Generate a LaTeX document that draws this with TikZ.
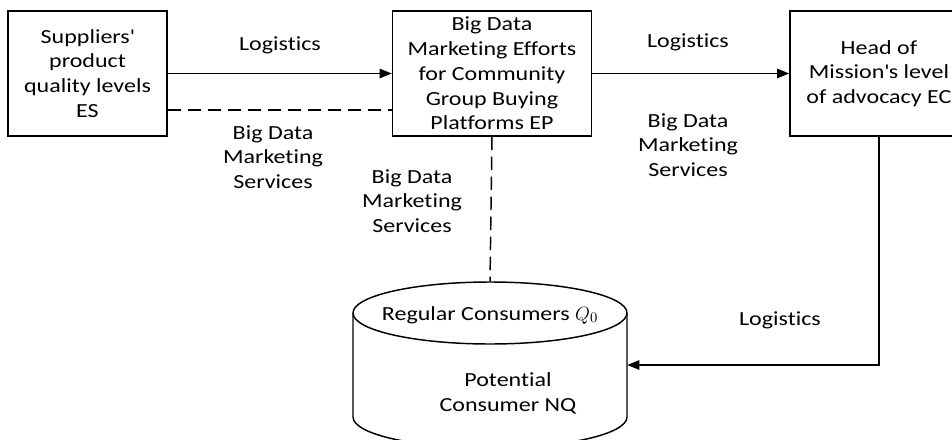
\documentclass[tikz,border=0pt]{standalone}
\usepackage{fontspec}
\setmainfont{Carlito}[FakeStretch=1.2, Ligatures=NoCommon]
\usetikzlibrary{arrows.meta, positioning, calc}
\tikzset{
  box/.style={
    rectangle, draw=black, line width=1.1pt, minimum height=93.75pt,
    inner sep=0pt, align=center
  },
  label/.style={align=center, inner sep=0pt},
  arrow/.style={-{Triangle[length=9pt,width=7pt]}, line width=1.1pt},
  dashline/.style={line width=1.1pt, dash pattern=on 10pt off 5pt}
}

\begin{document}
\begin{tikzpicture}[x=0.75pt, y=-0.75pt,
  font=\fontsize{15}{18.6}\selectfont
]
\useasboundingbox (0,0) rectangle (952,439);
\clip (0,0) rectangle (952,439);

% boxes
\node[box, minimum width=119.25pt] (ES) at (87.5,73.5) {Suppliers\textquotesingle\\ product\\ quality levels\\ ES};
\node[box, minimum width=149.25pt, right=168pt of ES] (EP) {Big Data\\ Marketing Efforts\\ for Community\\ Group Buying\\ Platforms EP};
\node[box, minimum width=133.5pt, right=147.75pt of EP] (EC) {Head of\\ Mission\textquotesingle s level\\ of advocacy EC};

% consumers (cylinder)
\node[draw=none, minimum width=205.5pt, minimum height=124.5pt, inner sep=0pt] (cons) at (490,365) {};
\draw[line width=1.1pt] (490,313) ellipse [x radius=102.75pt, y radius=23.25pt];
\draw[line width=1.1pt] (353,313) -- (353,417)
  arc [start angle=180, end angle=360, x radius=102.75pt, y radius=23.25pt] -- (627,313);
\node[label] (reg) at (490,315) {Regular Consumers $Q_0$};
\node[label] (pot) at (508,393) {Potential\\ Consumer NQ};

% flows
\draw[arrow] (ES.east) -- (EP.west);
\draw[dashline] ([yshift=-27.4pt]ES.east) -- ([yshift=-27.4pt]EP.west);
\draw[dashline] (EP.east) -- (EC.west);
\draw[arrow] (EP.east) -- (EC.west);
\draw[dashline] (EP.south) -- (cons.north);
\draw[arrow] (EC.south) |- (cons.east);

% labels
\node[label] (logA) at (280,45) {Logistics};
\node[label] (bdA) at (273,157) {Big Data\\ Marketing\\ Services};
\node[label] (logB) at (688,42) {Logistics};
\node[label] (bdB) at (688,145) {Big Data\\ Marketing\\ Services};
\node[label] (bdC) at (412,201) {Big Data\\ Marketing\\ Services};
\node[label] (logC) at (780,320) {Logistics};

\end{tikzpicture}
\end{document}
